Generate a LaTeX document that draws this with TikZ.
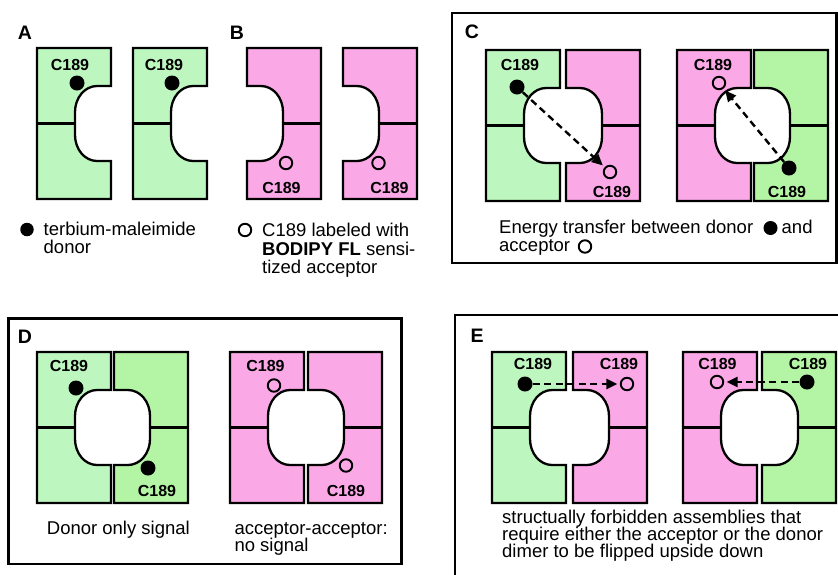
\documentclass[tikz,border=0pt]{standalone}
\usepackage{fontspec}
\setmainfont{Liberation Sans}
\usetikzlibrary{arrows.meta}

\definecolor{lgreen}{RGB}{190,246,192}
\definecolor{dgreen}{RGB}{180,245,165}
\definecolor{pinkish}{RGB}{250,168,230}

\tikzset{
  outl/.style={line width=2.3pt, draw=black},
  boxst/.style={line width=2.6pt, draw=black},
  donor/.style={circle, fill=black, inner sep=0pt, minimum size=15pt},
  acc/.style={circle, draw=black, line width=1.9pt, inner sep=0pt, minimum size=12.5pt},
  lbl/.style={inner sep=0pt, font=\bfseries\fontsize{16}{16}\selectfont},
  ltr/.style={inner sep=0pt, font=\bfseries\fontsize{19.5}{19.5}\selectfont},
  captxt/.style={anchor=base west, inner sep=0pt, font=\fontsize{18.5}{17}\selectfont},
  xfer/.style={line width=2.4pt, dash pattern=on 7pt off 4.5pt,
    -{Triangle[length=11pt,width=10pt]}, shorten >=2.5pt},
}

% subunit with its pocket on the right; #1 fill, (#2,#3) top-left corner
\newcommand{\subL}[3]{%
  \begin{scope}[shift={(#2,#3)}]
    \filldraw[outl, fill=#1] (0,0) -- (74,0) -- (74,38) -- (60,38)
      .. controls (47.85,38) and (38,49.64) .. (38,64) -- (38,87)
      .. controls (38,101.36) and (47.85,113) .. (60,113)
      -- (74,113) -- (74,151) -- (0,151) -- cycle;
    \draw[outl] (0,75.5) -- (38,75.5);
  \end{scope}}
% mirror image: pocket on the left
\newcommand{\subR}[3]{%
  \begin{scope}[shift={({#2+74},#3)}, xscale=-1]
    \filldraw[outl, fill=#1] (0,0) -- (74,0) -- (74,38) -- (60,38)
      .. controls (47.85,38) and (38,49.64) .. (38,64) -- (38,87)
      .. controls (38,101.36) and (47.85,113) .. (60,113)
      -- (74,113) -- (74,151) -- (0,151) -- cycle;
    \draw[outl] (0,75.5) -- (38,75.5);
  \end{scope}}

\begin{document}
\begin{tikzpicture}[x=1pt, y=-1pt]
\useasboundingbox (0,0) rectangle (838,574);
\clip (0,0) rectangle (838,574);
\fill[white] (0,0) rectangle (838,574);

% ---------- A: donor-labelled subunits ----------
\node[ltr] (la) at (25,33) {A};
\subL{lgreen}{37}{48}
\subL{lgreen}{133}{48}
\node[lbl] (a1t) at (70,65) {C189};
\node[donor] (a1d) at (77,83) {};
\node[lbl] (a2t) at (164,65) {C189};
\node[donor] (a2d) at (172,83) {};
\node[donor, minimum size=13.5pt] (akey) at (27,229.5) {};
\node[captxt] (acap1) at (43.5,235.5) {terbium-maleimide};
\node[captxt] (acap2) at (43.5,253) {donor};

% ---------- B: acceptor-labelled subunits ----------
\node[ltr] (lb) at (237,33) {B};
\subR{pinkish}{247}{48}
\subR{pinkish}{343}{48}
\node[acc] (b1a) at (286,163) {};
\node[lbl] (b1t) at (281.5,188) {C189};
\node[acc] (b2a) at (378.5,163) {};
\node[lbl] (b2t) at (389.5,188) {C189};
\node[acc] (bkey) at (245,230) {};
\node[captxt] (bcap1) at (262,236.5) {C189 labeled with};
\node[captxt] (bcap2) at (262,255) {\textbf{BODIPY FL} sensi-};
\node[captxt] (bcap3) at (262,273) {tized acceptor};

% ---------- C: donor/acceptor heterodimers ----------
\draw[boxst] (452,13) rectangle (836.5,263);
\node[ltr] (lc) at (472,32) {C};
\subL{lgreen}{486}{50}
\subR{pinkish}{566}{50}
\node[lbl] (c1t1) at (520,65) {C189};
\node[donor] (c1d) at (517,87) {};
\node[acc] (c1a) at (610,172) {};
\node[lbl] (c1t2) at (612,192) {C189};
\draw[xfer] (c1d) -- (c1a);
\subL{pinkish}{677}{50}
\subR{dgreen}{754}{50}
\node[lbl] (c2t1) at (713,65) {C189};
\node[acc] (c2a) at (719,83) {};
\node[donor] (c2d) at (789,168) {};
\node[lbl] (c2t2) at (787,192) {C189};
\draw[xfer] (c2d) -- (c2a);
\node[captxt] (ccap1) at (499,233) {Energy transfer between donor};
\node[donor, minimum size=14pt] (ckeyd) at (770.5,228) {};
\node[captxt] (ccap2) at (781.5,233) {and};
\node[captxt] (ccap3) at (499,251) {acceptor};
\node[acc] (ckeya) at (585,246.5) {};

% ---------- D: homodimers ----------
\draw[boxst] (8.3,318.3) rectangle (401.7,564);
\node[ltr] (ld) at (25,337) {D};
\subL{lgreen}{37}{352}
\subR{dgreen}{114}{352}
\node[lbl] (d1t1) at (69,366) {C189};
\node[donor] (d1d1) at (76,388) {};
\node[donor] (d1d2) at (148,468) {};
\node[lbl] (d1t2) at (157,490.5) {C189};
\subL{pinkish}{230}{352}
\subR{pinkish}{308}{352}
\node[lbl] (d2t1) at (265.5,366) {C189};
\node[acc] (d2a1) at (274,385.5) {};
\node[acc] (d2a2) at (346,465.5) {};
\node[lbl] (d2t2) at (346,490.5) {C189};
\node[captxt] (dcap1) at (46.7,534) {Donor only signal};
\node[captxt] (dcap2) at (234.3,534) {acceptor-acceptor:};
\node[captxt] (dcap3) at (234.3,551) {no signal};

% ---------- E: forbidden assemblies ----------
\draw[boxst] (850,315) -- (455,315) -- (455,590);
\node[ltr] (le) at (477,336) {E};
\subL{lgreen}{492}{352}
\subR{pinkish}{573}{352}
\node[lbl] (e1t1) at (533,364) {C189};
\node[donor] (e1d) at (525,384) {};
\node[lbl] (e1t2) at (619,364) {C189};
\node[acc] (e1a) at (627,384) {};
\draw[xfer] (e1d) -- (e1a);
\subL{pinkish}{683}{352}
\subR{dgreen}{762}{352}
\node[lbl] (e2t1) at (717.5,364) {C189};
\node[acc] (e2a) at (717,382) {};
\node[lbl] (e2t2) at (808,364) {C189};
\node[donor] (e2d) at (807,382) {};
\draw[xfer] (e2d) -- (e2a);
\node[captxt] (ecap1) at (502,523) {structually forbidden assemblies that};
\node[captxt] (ecap2) at (502,540) {require either the acceptor or the donor};
\node[captxt] (ecap3) at (502,557) {dimer to be flipped upside down};
\end{tikzpicture}
\end{document}
